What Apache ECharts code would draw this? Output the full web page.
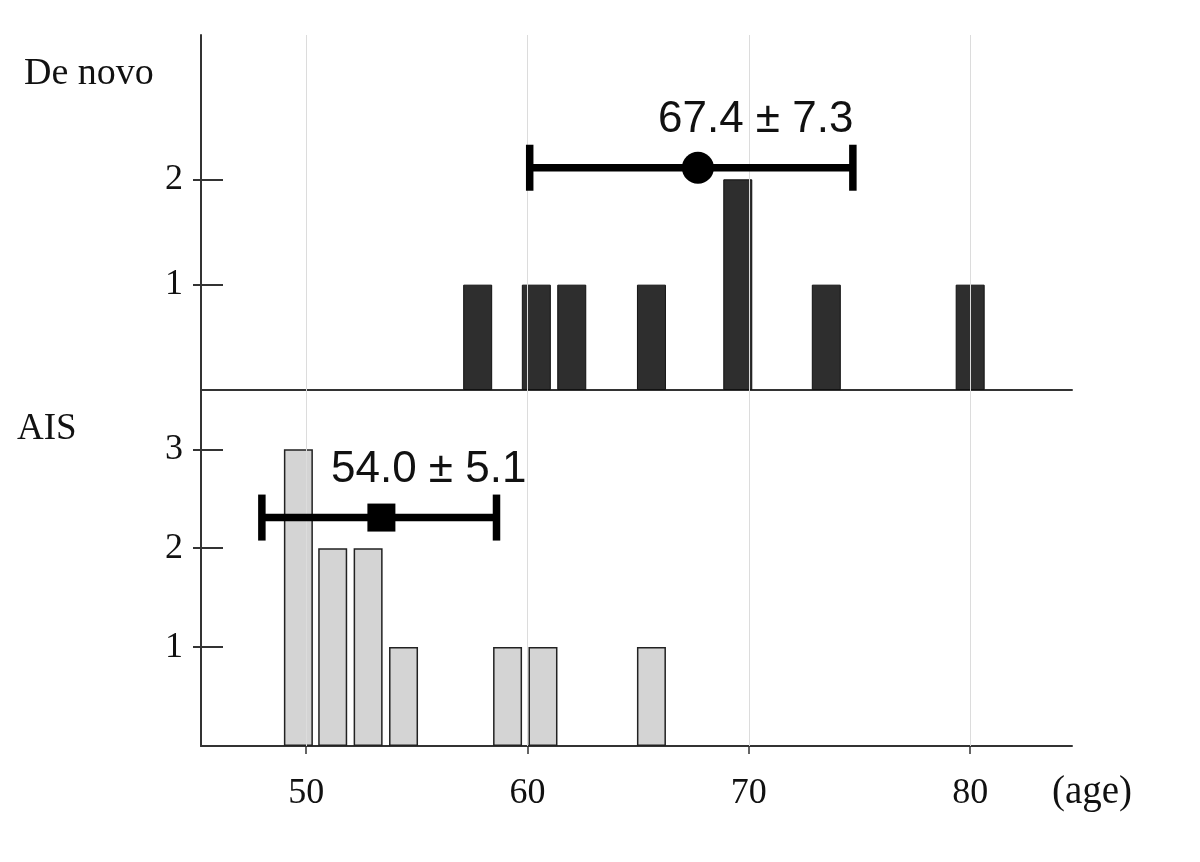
<!DOCTYPE html>
<html>
<head>
<meta charset="utf-8">
<script src="https://cdn.jsdelivr.net/npm/echarts@6/dist/echarts.min.js"></script>
<style>
  html, body { margin: 0; padding: 0; background: #fff; }
  #main { width: 1200px; height: 862px; }
</style>
</head>
<body>
<div id="main"></div>
<script>
// ages (bar centres) and counts
var denovoAges = [57.75, 60.4, 62.0, 65.6, 69.5, 73.5, 80.0]
var denovoCounts = [1, 1, 1, 1, 2, 1, 1]
var aisAges = [49.65, 51.2, 52.8, 54.4, 59.1, 60.7, 65.6]
var aisCounts = [3, 2, 2, 1, 1, 1, 1]

// error bars: [low, marker, high, height]
var denovoErr = [[60.1, 67.7, 74.7, 2.11]]
var aisErr = [[48.0, 53.4, 58.6, 2.31]]

var xTicks = [50, 60, 70, 80]
var denovoYTicks = [1, 2]
var aisYTicks = [1, 2, 3]

var serif = 'Liberation Serif'
var axisColor = '#333'

function pairs(xs, ys) {
    return xs.map(function (x, i) { return [x, ys[i]] })
}

function errRenderer(shape) {
    return function (params, api) {
        var y = api.value(3)
        var lo = api.coord([api.value(0), y])
        var mid = api.coord([api.value(1), y])
        var hi = api.coord([api.value(2), y])
        var st = { stroke: '#000', lineWidth: 7.5 }
        var marker = shape === 'circle'
            ? { type: 'circle', shape: { cx: mid[0], cy: mid[1], r: 16 }, style: { fill: '#000' } }
            : { type: 'rect', shape: { x: mid[0] - 14, y: mid[1] - 14, width: 28, height: 28 }, style: { fill: '#000' } }
        return {
            type: 'group',
            children: [
                { type: 'line', shape: { x1: lo[0], y1: lo[1], x2: hi[0], y2: hi[1] }, style: st },
                { type: 'line', shape: { x1: lo[0], y1: lo[1] - 23, x2: lo[0], y2: lo[1] + 23 }, style: st },
                { type: 'line', shape: { x1: hi[0], y1: hi[1] - 23, x2: hi[0], y2: hi[1] + 23 }, style: st },
                marker
            ]
        }
    }
}

function gridLines() {
    return {
        silent: true,
        symbol: 'none',
        label: { show: false },
        lineStyle: { color: '#dcdcdc', width: 1, type: 'solid' },
        data: xTicks.map(function (v) { return { xAxis: v } })
    }
}

var myChart = echarts.init(document.getElementById('main'))

var option = {
    animation: false,
    backgroundColor: '#fff',
    grid: [
        { left: 201, right: 128, top: 35, height: 355 },
        { left: 201, right: 128, top: 390, height: 356 }
    ],
    xAxis: [
        {
            type: 'value', gridIndex: 0, min: 45.25, max: 84.6,
            axisLine: { show: true, onZero: false, lineStyle: { color: axisColor, width: 2 } },
            axisTick: { show: false },
            axisLabel: { show: false },
            splitLine: { show: false }
        },
        {
            type: 'value', gridIndex: 1, min: 45.25, max: 84.6,
            axisLine: { show: true, onZero: false, lineStyle: { color: axisColor, width: 2 } },
            axisTick: { show: true, customValues: xTicks, length: 8, lineStyle: { color: axisColor, width: 1.5 } },
            axisLabel: { customValues: xTicks, margin: 30, fontFamily: serif, fontSize: 36, color: '#111' },
            splitLine: { show: false }
        }
    ],
    yAxis: [
        {
            type: 'value', gridIndex: 0, min: 0, max: 3.37,
            axisLine: { show: true, lineStyle: { color: axisColor, width: 2 } },
            axisTick: { show: true, inside: true, length: 22, customValues: denovoYTicks, lineStyle: { color: axisColor, width: 2 } },
            axisLabel: { customValues: denovoYTicks, margin: 18, fontFamily: serif, fontSize: 36, color: '#111' },
            splitLine: { show: false }
        },
        {
            type: 'value', gridIndex: 1, min: 0, max: 3.6,
            axisLine: { show: true, lineStyle: { color: axisColor, width: 2 } },
            axisTick: { show: true, inside: true, length: 22, customValues: aisYTicks, lineStyle: { color: axisColor, width: 2 } },
            axisLabel: { customValues: aisYTicks, margin: 18, fontFamily: serif, fontSize: 36, color: '#111' },
            splitLine: { show: false }
        },
        // short outside part of the y ticks
        {
            type: 'value', gridIndex: 0, min: 0, max: 3.37, position: 'left',
            axisLine: { show: false },
            axisTick: { show: true, length: 8, customValues: denovoYTicks, lineStyle: { color: axisColor, width: 2 } },
            axisLabel: { show: false },
            splitLine: { show: false }
        },
        {
            type: 'value', gridIndex: 1, min: 0, max: 3.6, position: 'left',
            axisLine: { show: false },
            axisTick: { show: true, length: 8, customValues: aisYTicks, lineStyle: { color: axisColor, width: 2 } },
            axisLabel: { show: false },
            splitLine: { show: false }
        }
    ],
    series: [
        { type: 'line', xAxisIndex: 0, yAxisIndex: 0, data: [], z: 1, markLine: gridLines() },
        { type: 'line', xAxisIndex: 1, yAxisIndex: 1, data: [], z: 1, markLine: gridLines() },
        {
            name: 'De novo', type: 'bar', xAxisIndex: 0, yAxisIndex: 0, z: 2,
            barWidth: 29,
            itemStyle: { color: '#2e2e2e', borderColor: '#111', borderWidth: 1 },
            data: pairs(denovoAges, denovoCounts)
        },
        {
            name: 'AIS', type: 'bar', xAxisIndex: 1, yAxisIndex: 1, z: 2,
            barWidth: 29,
            itemStyle: { color: '#d4d4d4', borderColor: '#222', borderWidth: 1.5 },
            data: pairs(aisAges, aisCounts)
        },
        {
            type: 'custom', xAxisIndex: 0, yAxisIndex: 0, z: 5,
            renderItem: errRenderer('circle'),
            encode: { x: [0, 1, 2], y: 3 },
            data: denovoErr
        },
        {
            type: 'custom', xAxisIndex: 1, yAxisIndex: 1, z: 5,
            renderItem: errRenderer('rect'),
            encode: { x: [0, 1, 2], y: 3 },
            data: aisErr
        }
    ],
    graphic: [
        { type: 'text', left: 24, top: 55, style: { text: 'De novo', font: '38px "Liberation Serif"', fill: '#111' } },
        { type: 'text', left: 17, top: 411, style: { text: 'AIS', font: '37px "Liberation Serif"', fill: '#111' } },
        { type: 'text', left: 1052, top: 773, style: { text: '(age)', font: '39px "Liberation Serif"', fill: '#111' } },
        { type: 'text', left: 658, top: 98, style: { text: '67.4 ± 7.3', font: '44px "Liberation Sans", sans-serif', fill: '#111' } },
        { type: 'text', left: 331, top: 448, style: { text: '54.0 ± 5.1', font: '44px "Liberation Sans", sans-serif', fill: '#111' } }
    ]
}

myChart.setOption(option)
</script>
</body>
</html>
